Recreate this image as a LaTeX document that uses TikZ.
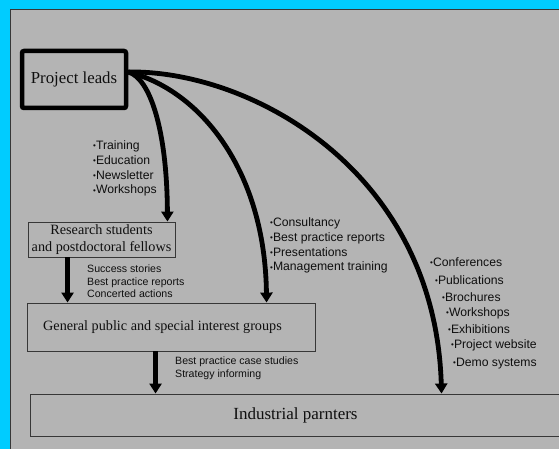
\documentclass[tikz,border=0pt]{standalone}
\usepackage{fontspec}
\setmainfont{Liberation Serif}
\newfontfamily\labelfont{Liberation Sans}
\usepackage{xcolor}
\usepackage{tikz}
\usetikzlibrary{arrows.meta}

\definecolor{frameblue}{RGB}{0,204,255}
\definecolor{panelgray}{RGB}{180,180,180}
\definecolor{edgegray}{RGB}{55,55,55}
\definecolor{inkgray}{RGB}{15,15,15}
\newcommand\bul{\raisebox{0.9pt}{\fontsize{8}{8}\selectfont\textbullet}}

\begin{document}
\begin{tikzpicture}[x=1pt,y=-1pt,>={Triangle[length=10pt,width=12pt]},
            box/.style={draw=edgegray,line width=0.9pt,fill=panelgray,inner sep=0pt,text=inkgray},
            flow/.style={->,line width=4.8pt},
            listtxt/.style={font=\labelfont\fontsize{12.2}{14.8}\selectfont,align=left,inner sep=0pt,text=inkgray},
            notetxt/.style={font=\labelfont\fontsize{10.6}{12.4}\selectfont,align=left,inner sep=0pt,text=inkgray}]
            \useasboundingbox (0,0) rectangle (559,449);
            \clip (0,0) rectangle (559,449);
            \fill[frameblue] (0,0) rectangle (559,449);
            \filldraw[fill=panelgray,draw=edgegray,line width=1pt] (10.5,9.5) rectangle (570,460);

            \node[box,draw=black,line width=4.5pt,rounded corners=2pt,minimum width=104pt,minimum height=57pt,
                font=\fontsize{16.8}{18}\selectfont] (leads) at (74,79.5) {Project leads};
            \node[box,minimum width=147pt,minimum height=35pt,align=center,
                font=\fontsize{14.2}{17.5}\selectfont] (research) at (101.5,239.5) {Research students\\and postdoctoral fellows};
            \node[box,minimum width=288pt,minimum height=48pt,
                font=\fontsize{14.2}{17}\selectfont] (public) at (171,327) {General public and special interest groups\kern17pt};
            \node[box,minimum width=531pt,minimum height=42pt,
                font=\fontsize{17}{19}\selectfont] (industry) at (295.5,415) {Industrial parnters};

            \coordinate (lout) at ([yshift=7.5pt]leads.east);
            \coordinate (toresearch) at ([xshift=-8pt]research.north east);
            \coordinate (topublic) at ([xshift=240pt]public.north west);
            \coordinate (toindustry) at ([xshift=412pt]industry.north west);
            \coordinate (rsdown) at ([xshift=40pt]research.south west);
            \coordinate (pbdown) at ([xshift=129pt]public.south west);

            \draw[flow] (lout) .. controls (150,78) and (167,130) .. (toresearch);
            \draw[flow] (lout) .. controls (200,90) and (265,170) .. (topublic);
            \draw[flow] (lout) .. controls (250,70) and (435,170) .. (toindustry);
            \draw[flow] (rsdown) -- (rsdown |- public.north);
            \draw[flow] (pbdown) -- (pbdown |- industry.north);

            \node[listtxt,anchor=north west] (trainlist) at (93,140.5)
                {\bul Training\\\bul Education\\\bul Newsletter\\\bul Workshops};
            \node[listtxt,anchor=north west] (consultlist) at (270,217.5)
                {\bul Consultancy\\\bul Best practice reports\\\bul Presentations\\\bul Management training};
            \node[notetxt,anchor=north west] (successlist) at (87,265)
                {Success stories\\Best practice reports\\Concerted actions};
            \node[notetxt,anchor=north west] (caselist) at (175,357)
                {Best practice case studies\\Strategy informing};
            \foreach \xo/\yo/\txt [count=\i] in {430/266/Conferences,435/284/Publications,442/301/Brochures,
                446/316/Workshops,448/333/Exhibitions,451/348/Project website,453/366/Demo systems}
            \node[listtxt,anchor=base west] (dissem-\i) at (\xo,\yo) {\bul\txt};
        \end{tikzpicture}
\end{document}
